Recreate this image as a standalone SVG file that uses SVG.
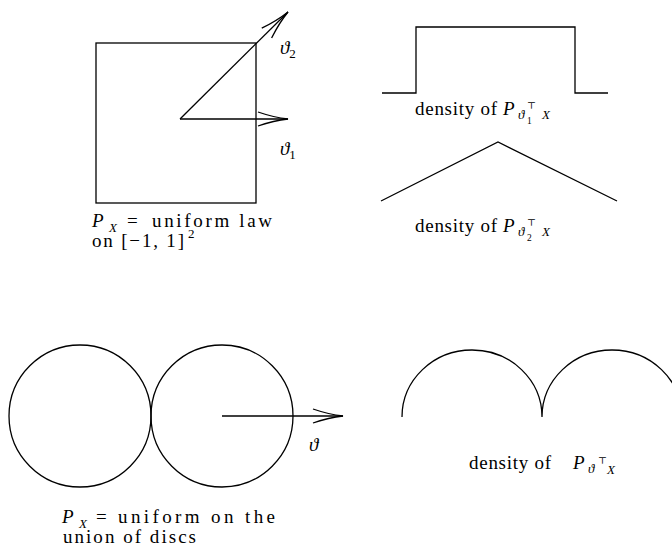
<svg xmlns="http://www.w3.org/2000/svg" width="672" height="549" viewBox="0 0 672 549">
<style>
.ln{fill:none;stroke:#000;stroke-width:1.3}
.t{font-size:19px;fill:#000}
.i{font-style:italic}
.s{font-size:13px}
.ss{font-size:9.5px}
</style>
<defs>
<marker id="ah" markerUnits="userSpaceOnUse" viewBox="-32 -10 34 20" refX="0" refY="0" markerWidth="34" markerHeight="20" orient="auto" overflow="visible">
<path d="M-30,-7 Q-14,-1.5 0,0 Q-14,1.5 -30,7" fill="none" stroke="#000" stroke-width="1.3"/>
</marker>
</defs>
<rect width="672" height="549" fill="#fff"/>
<g font-family="'Liberation Serif', 'DejaVu Serif', 'Times New Roman', serif">
<g id="square">
<rect class="ln" x="96" y="43" width="160" height="160"/>
<text class="t" x="92" y="227"><tspan class="i">P</tspan><tspan class="s i" x="109" y="232">X</tspan><tspan x="127" y="227">=</tspan><tspan x="152" y="227" textLength="120">uniform law</tspan></text>
<text class="t" x="92" y="247"><tspan textLength="92">on [−1, 1]</tspan><tspan class="s" x="188" y="238">2</tspan></text>
</g>
<g id="step-density">
<path class="ln" d="M382,93 H416 V27 H575 V93 H608"/>
<text class="t" x="415" y="115"><tspan textLength="82">density of</tspan><tspan class="i" x="503">P</tspan><tspan class="s i" x="518" y="119">ϑ</tspan><tspan class="ss" x="527" y="109">⊤</tspan><tspan class="ss" x="527" y="124">1</tspan><tspan class="s i" x="542" y="119">X</tspan></text>
</g>
<g id="triangle-density">
<path class="ln" d="M381,201 L498,142 L617,201"/>
<text class="t" x="415" y="232"><tspan textLength="82">density of</tspan><tspan class="i" x="503">P</tspan><tspan class="s i" x="518" y="236">ϑ</tspan><tspan class="ss" x="527" y="226">⊤</tspan><tspan class="ss" x="527" y="241">2</tspan><tspan class="s i" x="542" y="236">X</tspan></text>
</g>
<g id="discs">
<circle class="ln" cx="80" cy="416" r="71"/>
<circle class="ln" cx="222" cy="416" r="71"/>
<text class="t" x="62" y="523"><tspan class="i">P</tspan><tspan class="s i" x="79" y="528">X</tspan><tspan x="96" y="523">=</tspan><tspan x="118" y="523" textLength="157">uniform on the</tspan></text>
<text class="t" x="63" y="543" textLength="133">union of discs</text>
</g>
<g id="bimodal-density">
<path class="ln" d="M402,417 A70,67 0 0 1 542,417 A70,67 0 0 1 682,417"/>
<text class="t" x="469" y="469"><tspan textLength="82">density of</tspan><tspan class="i" x="573">P</tspan><tspan class="s i" x="588" y="473">ϑ</tspan><tspan class="ss" x="598" y="464">⊤</tspan><tspan class="s i" x="607" y="474">X</tspan></text>
</g>
<g id="connectors">
<line class="ln" x1="180" y1="119" x2="288" y2="119" marker-end="url(#ah)"/>
<line class="ln" x1="180" y1="119" x2="288" y2="12" marker-end="url(#ah)"/>
<line class="ln" x1="222" y1="416" x2="343" y2="416" marker-end="url(#ah)"/>
<text class="t i" x="280" y="54">ϑ<tspan class="s" font-style="normal" dy="4">2</tspan></text>
<text class="t i" x="280" y="155">ϑ<tspan class="s" font-style="normal" dy="4">1</tspan></text>
<text class="t i" x="309" y="451">ϑ</text>
</g>
</g>
</svg>
